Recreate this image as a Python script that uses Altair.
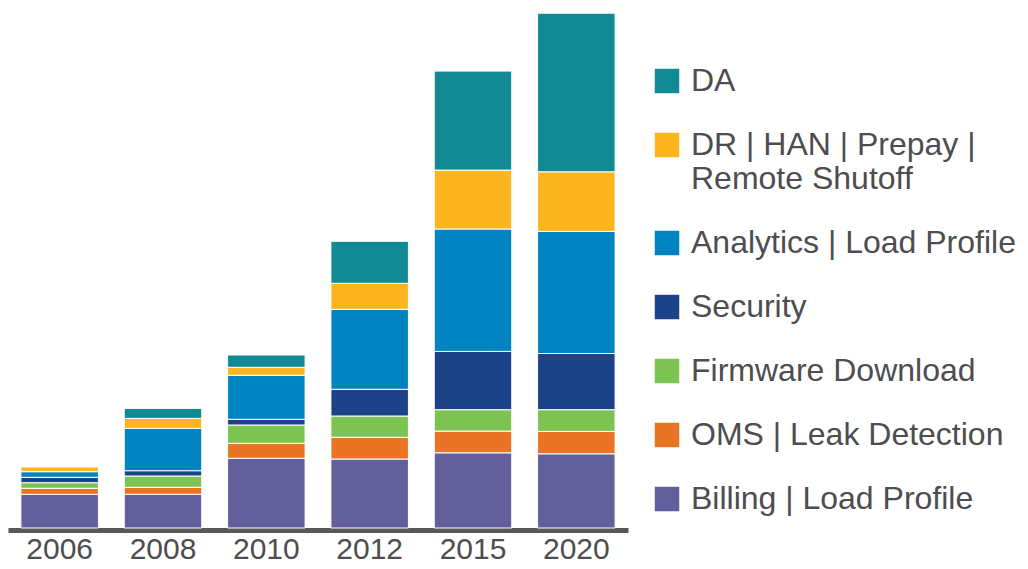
import altair as alt
import pandas as pd

years = ["2006", "2008", "2010", "2012", "2015", "2020"]
series = ["DA", "DR | HAN | Prepay | Remote Shutoff", "Analytics | Load Profile",
          "Security", "Firmware Download", "OMS | Leak Detection", "Billing | Load Profile"]
colors = ["#128a93", "#fdb51f", "#0083c1", "#1c4387", "#7dc352", "#ea7425", "#635e9c"]

billing = [33.7, 33.7, 69.7, 69.0, 75.2, 74.2]
oms = [6.0, 7.0, 15.0, 21.7, 21.7, 22.4]
firmware = [5.6, 11.3, 18.3, 21.3, 21.4, 21.7]
security = [5.4, 5.3, 5.7, 26.7, 58.3, 56.2]
analytics = [5.6, 42.3, 44.0, 80.0, 122.4, 122.1]
dr = [5.0, 10.0, 8.0, 26.0, 58.9, 59.6]
da = [0.0, 10.0, 12.3, 42.0, 99.0, 158.6]

values_by_series = {
    "Billing | Load Profile": billing,
    "OMS | Leak Detection": oms,
    "Firmware Download": firmware,
    "Security": security,
    "Analytics | Load Profile": analytics,
    "DR | HAN | Prepay | Remote Shutoff": dr,
    "DA": da,
}

rows = []
for order_idx, (name, vals) in enumerate(values_by_series.items()):
    for y, v in zip(years, vals):
        rows.append({"year": y, "series": name, "value": v, "ord": order_idx})
df = pd.DataFrame(rows)

FONT = "Liberation Sans"
TEXT = "#4d4d4f"

label_expr = ("indexof(datum.label, 'Remote') >= 0 ? "
              "['DR | HAN | Prepay |', 'Remote Shutoff'] : datum.label")

chart = alt.Chart(df).mark_bar(stroke="white", strokeWidth=1).encode(
    x=alt.X("year:N", sort=years, title=None,
            scale=alt.Scale(paddingInner=0.25, paddingOuter=0.125),
            axis=alt.Axis(labelAngle=0, labelFontSize=30, labelFont=FONT,
                          labelColor=TEXT, ticks=False, domainColor="#58585a",
                          domainWidth=5, labelPadding=4, offset=2)),
    y=alt.Y("value:Q", stack="zero", axis=None,
            scale=alt.Scale(domain=[0, 520], nice=False, zero=True)),
    color=alt.Color("series:N", title=None,
                    scale=alt.Scale(domain=series, range=colors),
                    legend=alt.Legend(orient="none", legendX=643, legendY=57,
                                      symbolType="square", symbolSize=600,
                                      symbolStrokeWidth=0, symbolOpacity=1,
                                      labelFontSize=32, labelFont=FONT,
                                      labelColor=TEXT, labelLimit=360,
                                      labelExpr=label_expr,
                                      labelOffset=8, rowPadding=32,
                                      padding=0)),
    order=alt.Order("ord:Q", sort="ascending"),
).properties(
    width=620, height=520,
    padding={"left": 0, "top": 0, "right": 0, "bottom": 0},
).configure_view(stroke=None)

chart.save("out.html", embed_options={"renderer": "svg", "actions": False})
